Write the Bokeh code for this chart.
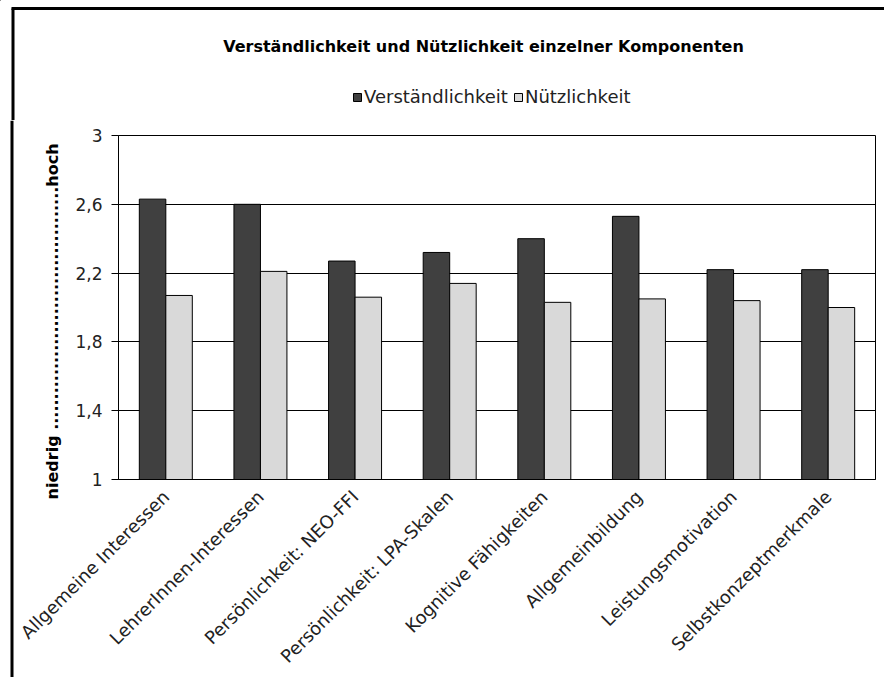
import math
from bokeh.plotting import figure
from bokeh.layouts import row, column
from bokeh.models import (ColumnDataSource, FactorRange, Range1d, FixedTicker,
                          Legend, LegendItem, Label)
from bokeh.transform import dodge
from bokeh.embed import file_html
from bokeh.resources import INLINE

# ---- data ----
categories = ["Allgemeine Interessen", "LehrerInnen-Interessen", "Persönlichkeit: NEO-FFI",
              "Persönlichkeit: LPA-Skalen", "Kognitive Fähigkeiten", "Allgemeinbildung",
              "Leistungsmotivation", "Selbstkonzeptmerkmale"]
verstaendlichkeit = [2.63, 2.60, 2.27, 2.32, 2.40, 2.53, 2.22, 2.22]
nuetzlichkeit = [2.07, 2.21, 2.06, 2.14, 2.03, 2.05, 2.04, 2.00]
y_ticks = [1.0, 1.4, 1.8, 2.2, 2.6, 3.0]
y_tick_labels = ["1", "1,4", "1,8", "2,2", "2,6", "3"]
series_names = ["Verständlichkeit", "Nützlichkeit"]
series_colors = ["#404040", "#d9d9d9"]
title_text = "Verständlichkeit und Nützlichkeit einzelner Komponenten"
y_label = "niedrig " + "." * 40 + "hoch"

FONT = "DejaVu Sans"
STRIP_W = 16
HEADER_H = 120
TOTAL_W = 884
TOTAL_H = 677
BODY_H = TOTAL_H - HEADER_H
FRAME_X = 12.5
STRIP_FRAME_X = 11.5


def bare_figure(w, h, xr, yr):
    f = figure(width=w, height=h, x_range=xr, y_range=yr, output_backend="svg",
               toolbar_location=None, tools="", x_axis_location=None, y_axis_location=None,
               min_border_left=0, min_border_right=0, min_border_top=0, min_border_bottom=0)
    f.outline_line_color = None
    f.background_fill_color = "white"
    f.border_fill_color = "white"
    for g in f.grid:
        g.visible = False
    return f


# ---- header: outer frame (top/left), title and legend ----
header = bare_figure(TOTAL_W, HEADER_H, Range1d(0, TOTAL_W), Range1d(HEADER_H, 0))
header.segment(x0=[FRAME_X - 1.5, FRAME_X], y0=[8, 8], x1=[TOTAL_W, FRAME_X], y1=[8, HEADER_H],
               line_color="black", line_width=3)
header.add_layout(Label(x=483, y=46, text=title_text, text_align="center",
                        text_baseline="middle", text_font=FONT, text_font_size="16px",
                        text_font_style="bold", text_color="black"))
# legend-only renderers (one point placed outside the visible header range)
d1 = header.vbar(x=[-1000], top=[-1000], width=1, fill_color=series_colors[0], line_color="black")
d2 = header.vbar(x=[-1000], top=[-1000], width=1, fill_color=series_colors[1], line_color="black")
legend = Legend(items=[LegendItem(label=series_names[0], renderers=[d1]),
                       LegendItem(label=series_names[1], renderers=[d2])],
                orientation="horizontal", location=(352, 13),
                border_line_color=None, background_fill_alpha=0,
                label_text_font=FONT, label_text_font_size="18px", label_text_color="#222222",
                glyph_width=10, glyph_height=10, label_standoff=2, spacing=5,
                padding=0, margin=0)
header.add_layout(legend, "center")

# ---- left strip continuing the outer frame line ----
strip = bare_figure(STRIP_W, BODY_H, Range1d(0, STRIP_W), Range1d(BODY_H, 0))
strip.segment(x0=[STRIP_FRAME_X], y0=[0], x1=[STRIP_FRAME_X], y1=[BODY_H],
              line_color="black", line_width=3)

# ---- main chart ----
source = ColumnDataSource(dict(cat=categories, v=verstaendlichkeit, n=nuetzlichkeit))

p = figure(width=TOTAL_W - STRIP_W, height=BODY_H,
           x_range=FactorRange(*categories), y_range=Range1d(1, 3),
           output_backend="svg", toolbar_location=None, tools="",
           min_border_left=118 - STRIP_W, min_border_right=TOTAL_W - 875, min_border_top=15,
           min_border_bottom=196)

p.background_fill_color = "white"
p.border_fill_color = "white"
p.outline_line_color = "black"
p.outline_line_width = 1

p.vbar(x=dodge("cat", -0.14, range=p.x_range), top="v", bottom=1, width=0.28,
       source=source, fill_color=series_colors[0], line_color="black", line_width=1)
p.vbar(x=dodge("cat", 0.14, range=p.x_range), top="n", bottom=1, width=0.28,
       source=source, fill_color=series_colors[1], line_color="black", line_width=1)

p.xgrid.grid_line_color = None
p.ygrid.grid_line_color = "black"
p.ygrid.grid_line_width = 1
p.ygrid.level = "underlay"

p.yaxis.ticker = FixedTicker(ticks=y_ticks)
p.yaxis.major_label_overrides = {t: l for t, l in zip(y_ticks, y_tick_labels)}
p.yaxis.major_tick_out = 7
p.yaxis.major_tick_in = 0
p.yaxis.minor_tick_line_color = None
p.yaxis.axis_line_color = "black"
p.yaxis.major_tick_line_color = "black"
p.yaxis.major_label_text_font = FONT
p.yaxis.major_label_text_font_size = "17px"
p.yaxis.major_label_text_color = "#222222"
p.yaxis.major_label_standoff = 9
p.yaxis.axis_label = y_label + "\u00a0" * 5
p.yaxis.axis_label_text_font = FONT
p.yaxis.axis_label_text_font_size = "16px"
p.yaxis.axis_label_text_font_style = "bold"
p.yaxis.axis_label_text_color = "black"
p.yaxis.axis_label_standoff = 10

p.xaxis.major_tick_line_color = None
p.xaxis.minor_tick_line_color = None
p.xaxis.axis_line_color = "black"
p.xaxis.major_label_orientation = math.pi / 4
p.xaxis.major_label_text_font = FONT
p.xaxis.major_label_text_font_size = "18px"
p.xaxis.major_label_text_color = "#222222"
p.xaxis.major_label_standoff = 8

layout = column(header, row(strip, column(p)))
open("out.html", "w").write(file_html(layout, INLINE))
